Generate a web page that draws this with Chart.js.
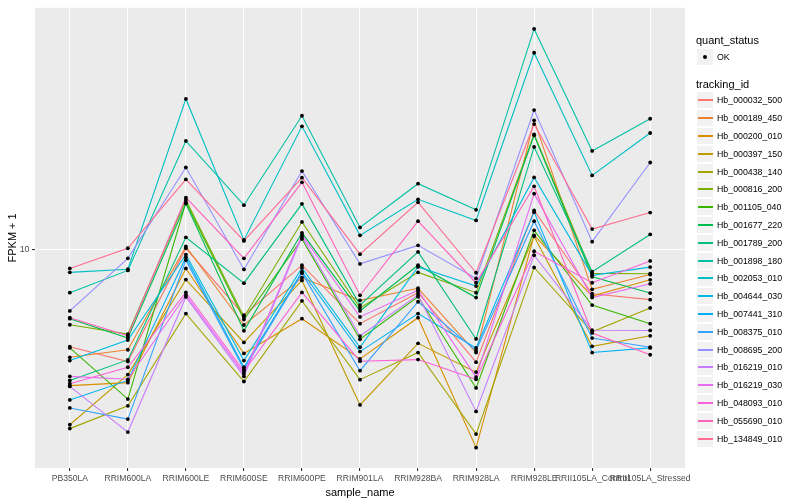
<!DOCTYPE html>
<html>
<head>
<meta charset="utf-8">
<title>FPKM + 1 by sample</title>
<script src="https://cdn.jsdelivr.net/npm/chart.js@4.4.0/dist/chart.umd.min.js"></script>
<style>
  html, body { margin: 0; padding: 0; background: #ffffff; }
  #wrap { position: relative; width: 800px; height: 500px; font-family: "Liberation Sans", Arial, Helvetica, sans-serif; }
  #chart { position: absolute; left: 0; top: 0; }
  #legend { position: absolute; left: 0; top: 0; width: 800px; height: 500px; pointer-events: none; }
  .ttl { position: absolute; left: 696px; font-size: 11px; color: #000; line-height: 13px; white-space: nowrap; }
  .key { position: absolute; left: 697px; width: 16px; height: 16px; background: #F2F2F2; }
  .key .ln { position: absolute; left: 1px; right: 0; top: 7px; height: 1.5px; }
  .key .dot { position: absolute; left: 6px; top: 6px; width: 4px; height: 4px; border-radius: 50%; background: #000; }
  .lab { position: absolute; left: 717px; font-size: 8.8px; color: #000; line-height: 10px; white-space: nowrap; }
</style>
</head>
<body>
<div id="wrap">
  <canvas id="chart" width="800" height="500"></canvas>
  <div id="legend"></div>
</div>
<script>
// samples on the x axis
const sampleNames = ['PB350LA', 'RRIM600LA', 'RRIM600LE', 'RRIM600SE', 'RRIM600PE', 'RRIM901LA',
                     'RRIM928BA', 'RRIM928LA', 'RRIM928LE', 'RRII105LA_Control', 'RRII105LA_Stressed'];

const trackingIds = ['Hb_000032_500', 'Hb_000189_450', 'Hb_000200_010', 'Hb_000397_150', 'Hb_000438_140',
                     'Hb_000816_200', 'Hb_001105_040', 'Hb_001677_220', 'Hb_001789_200', 'Hb_001898_180',
                     'Hb_002053_010', 'Hb_004644_030', 'Hb_007441_310', 'Hb_008375_010', 'Hb_008695_200',
                     'Hb_016219_010', 'Hb_016219_030', 'Hb_048093_010', 'Hb_055690_010', 'Hb_134849_010'];

const seriesColors = ['#F8766D', '#EA8331', '#D89000', '#C09B00', '#A3A500', '#7CAE00', '#39B600', '#00BB4E',
                      '#00BF7D', '#00C1A3', '#00BFC4', '#00BAE0', '#00B0F6', '#35A2FF', '#9590FF', '#C77CFF',
                      '#E76BF3', '#FA62DB', '#FF62BC', '#FF6C91'];

// FPKM + 1, one value per sample
const hb000032_500 = [5.69, 5.22, 10.06, 6.83, 9.12, 6.50, 7.78, 5.20, 12.52, 7.73, 7.47];
const hb000189_450 = [5.35, 5.59, 10.17, 6.45, 8.48, 7.44, 7.98, 5.50, 21.10, 7.93, 8.64];
const hb000200_010 = [4.54, 4.62, 8.95, 5.47, 6.69, 5.30, 6.73, 3.17, 10.84, 7.63, 8.38];
const hb000397_150 = [3.62, 4.84, 8.39, 5.83, 8.35, 4.06, 5.80, 4.91, 10.78, 5.70, 6.06];
const hb000438_140 = [3.54, 4.04, 6.89, 4.65, 7.42, 4.70, 5.50, 3.43, 9.00, 6.20, 7.12];
const hb000816_200 = [6.46, 6.12, 13.31, 6.76, 11.72, 7.12, 8.75, 7.78, 19.46, 8.70, 8.68];
const hb001105_040 = [5.65, 4.20, 13.13, 6.66, 10.62, 5.94, 7.60, 4.48, 11.16, 7.24, 6.50];
const hb001677_220 = [6.69, 5.98, 13.03, 6.24, 11.00, 7.00, 9.12, 7.56, 19.35, 8.53, 7.76];
const hb001789_200 = [4.68, 5.27, 10.72, 8.22, 13.01, 7.24, 9.85, 5.95, 18.09, 8.78, 10.90];
const hb001898_180 = [7.78, 8.85, 18.73, 12.91, 21.67, 11.35, 14.62, 12.57, 35.83, 17.68, 21.30];
const hb002053_010 = [8.75, 8.91, 23.89, 10.56, 20.38, 10.84, 13.36, 11.82, 31.21, 15.34, 19.61];
const hb004644_030 = [5.25, 5.91, 9.70, 5.25, 8.98, 5.67, 9.03, 8.08, 15.16, 8.60, 9.02];
const hb007441_310 = [4.18, 4.68, 9.55, 5.05, 8.78, 5.53, 6.89, 5.65, 12.40, 5.50, 5.65];
const hb008375_010 = [3.99, 3.74, 9.39, 4.99, 8.71, 4.95, 7.38, 5.56, 11.77, 5.98, 5.67];
const hb008695_200 = [7.00, 9.49, 16.06, 8.90, 15.73, 9.19, 10.23, 8.45, 22.39, 10.45, 16.53];
const hb016219_010 = [4.52, 3.47, 7.59, 4.79, 10.75, 6.05, 7.67, 3.91, 9.66, 6.26, 6.25];
const hb016219_030 = [4.79, 4.71, 7.67, 4.86, 10.87, 6.76, 7.89, 4.77, 13.80, 7.56, 8.19];
const hb048093_010 = [4.59, 5.05, 7.79, 4.93, 7.79, 5.23, 5.28, 4.71, 9.89, 8.24, 9.35];
const hb055690_010 = [6.73, 6.06, 13.49, 9.49, 14.74, 7.66, 11.77, 8.24, 14.40, 6.16, 5.43];
const hb134849_010 = [8.95, 10.06, 14.99, 10.50, 15.14, 9.72, 13.13, 8.73, 20.65, 11.24, 12.37];

const seriesValues = [hb000032_500, hb000189_450, hb000200_010, hb000397_150, hb000438_140,
                      hb000816_200, hb001105_040, hb001677_220, hb001789_200, hb001898_180,
                      hb002053_010, hb004644_030, hb007441_310, hb008375_010, hb008695_200,
                      hb016219_010, hb016219_030, hb048093_010, hb055690_010, hb134849_010];

const yTicks = [10];
const yMin = 2.818;
const yMax = 40.5;

const FONT = '"Liberation Sans", Arial, Helvetica, sans-serif';

// grey panel behind the plot
const panelBg = {
    id: 'panelBg',
    beforeDraw(chart) {
        const a = chart.chartArea;
        const ctx = chart.ctx;
        ctx.save();
        ctx.fillStyle = '#EBEBEB';
        ctx.fillRect(a.left, a.top, a.right - a.left, a.bottom - a.top);
        ctx.restore();
    }
};

const datasets = seriesValues.map(function (vals, i) {
    return {
        label: trackingIds[i],
        data: vals.map(function (v, j) { return { x: j, y: v }; }),
        borderColor: seriesColors[i],
        backgroundColor: seriesColors[i],
        borderWidth: 1.1,
        pointRadius: 0,
        fill: false,
        tension: 0,
        order: seriesValues.length - i + 1
    };
});

// black points for quant_status = OK, on top of every line
const okPoints = [];
seriesValues.forEach(function (vals) {
    vals.forEach(function (v, j) { okPoints.push({ x: j, y: v }); });
});
datasets.push({
    label: 'OK',
    type: 'scatter',
    data: okPoints,
    pointRadius: 1.9,
    pointBackgroundColor: '#000000',
    pointBorderWidth: 0,
    showLine: false,
    order: 0
});

new Chart(document.getElementById('chart').getContext('2d'), {
    type: 'line',
    data: { datasets: datasets },
    plugins: [panelBg],
    options: {
        responsive: false,
        animation: false,
        events: [],
        layout: { padding: { left: 0, top: 5, right: 115, bottom: 0 } },
        plugins: { legend: { display: false }, tooltip: { enabled: false } },
        scales: {
            x: {
                type: 'linear',
                min: -0.6,
                max: 10.6,
                bounds: 'data',
                afterBuildTicks: function (s) { s.ticks = sampleNames.map(function (_, i) { return { value: i }; }); },
                afterFit: function (s) { s.height = 32; },
                ticks: {
                    autoSkip: false,
                    maxRotation: 0,
                    minRotation: 0,
                    padding: 2,
                    color: '#4D4D4D',
                    font: { family: FONT, size: 8.6 },
                    callback: function (value) { return sampleNames[value]; }
                },
                grid: { color: '#FFFFFF', lineWidth: 1.1, tickColor: '#333333', tickLength: 3 },
                border: { display: false },
                title: { display: true, text: 'sample_name', color: '#000000',
                         font: { family: FONT, size: 11 }, padding: { top: 6.4, bottom: 0 } }
            },
            y: {
                type: 'logarithmic',
                min: yMin,
                max: yMax,
                bounds: 'data',
                afterBuildTicks: function (s) { s.ticks = yTicks.map(function (v) { return { value: v }; }); },
                afterFit: function (s) { s.width = 35; },
                ticks: {
                    padding: 2.5,
                    color: '#4D4D4D',
                    font: { family: FONT, size: 8.8 },
                    callback: function (value) { return String(value); }
                },
                grid: { color: '#FFFFFF', lineWidth: 1.1, tickColor: '#333333', tickLength: 3 },
                border: { display: false },
                title: { display: true, text: 'FPKM + 1', color: '#000000',
                         font: { family: FONT, size: 11 }, padding: { top: 6, bottom: 0 } }
            }
        }
    }
});

// ggplot style legend on the right
const legend = document.getElementById('legend');
function addEl(cls, top, html) {
    const el = document.createElement('div');
    el.className = cls;
    el.style.top = Math.round(top) + 'px';
    if (html) el.innerHTML = html;
    legend.appendChild(el);
    return el;
}
addEl('ttl', 34, 'quant_status');
addEl('key', 49, '<div class="dot"></div>');
addEl('lab', 52, 'OK');
addEl('ttl', 78, 'tracking_id');
trackingIds.forEach(function (id, i) {
    const cy = 100.3 + 17.8 * i;
    const k = addEl('key', cy - 8, '<div class="ln"></div>');
    k.firstChild.style.background = seriesColors[i];
    addEl('lab', cy - 5, id);
});
</script>
</body>
</html>
